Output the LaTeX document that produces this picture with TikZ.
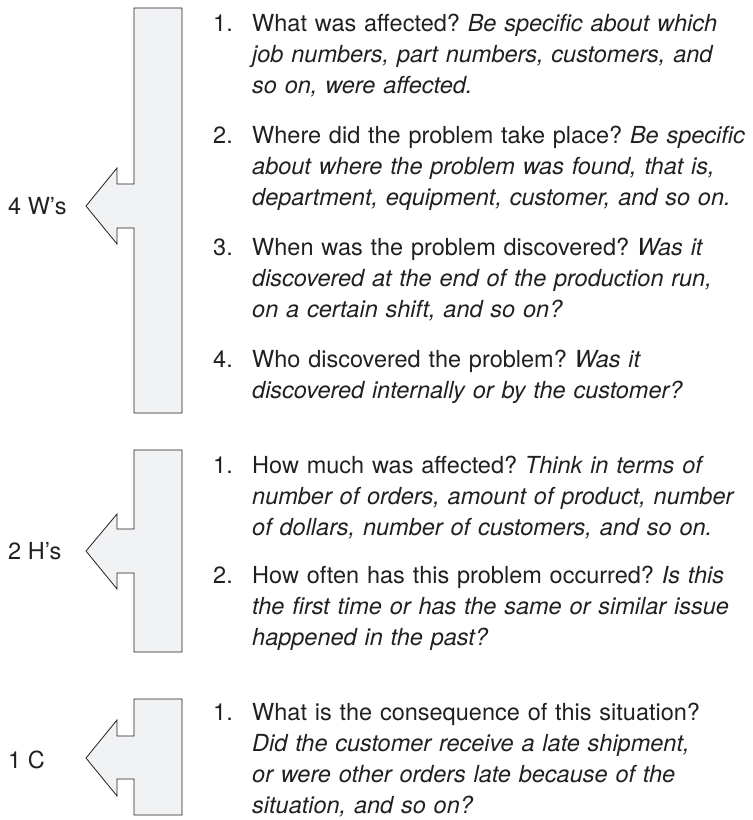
\documentclass[tikz,border=0pt]{standalone}
\usepackage{fontspec}
\setmainfont{TeX Gyre Heros}
\frenchspacing
\definecolor{barfill}{HTML}{F1F2F4}
\definecolor{ink}{HTML}{231F20}
\begin{document}
\begin{tikzpicture}[x=1pt, y=-1pt, every node/.style={font=\fontsize{23.5}{31}\selectfont, text=ink, inner sep=0pt},
  bar/.style={draw=ink, line width=0.8pt, fill=barfill, line join=miter},
  num/.style={anchor=base west},
  item/.style={anchor=base west, text width=520pt, align=left},
  tag/.style={anchor=west}]
  \useasboundingbox (0,0) rectangle (753,820);
  % bars with arrow heads
  \draw[bar] (182,8) -- (134,8) -- (134,184) -- (117,184) -- (117,168) -- (86,206) -- (117,244) -- (117,228) -- (134,228) -- (134,413) -- (182,413) -- cycle;
  \draw[bar] (182,450) -- (134,450) -- (134,529) -- (117,529) -- (117,514) -- (86,551) -- (117,589) -- (117,573) -- (134,573) -- (134,652) -- (182,652) -- cycle;
  \draw[bar] (182,699) -- (134,699) -- (134,736) -- (117,736) -- (117,720) -- (86,758) -- (117,796) -- (117,779) -- (134,779) -- (134,815) -- (182,815) -- cycle;
  \node[tag] (w) at (8,206) {4 W’s};
  \node[tag] (h) at (8,551) {2 H’s};
  \node[tag] (c) at (8,760) {1 C};
  % 4 W's
  \node[num] (w1n) at (213,31) {1.};
  \node[item] (w1) at (252,31) {What was affected? \textit{Be specific about which}\\ \textit{job numbers, part numbers, customers, and}\\ \textit{so on, were affected.}};
  \node[num] (w2n) at (213,143) {2.};
  \node[item] (w2) at (252,143) {Where did the problem take place? \textit{Be specific}\\ \textit{about where the problem was found, that is,}\\ \textit{department, equipment, customer, and so on.}};
  \node[num] (w3n) at (213,255) {3.};
  \node[item] (w3) at (252,255) {When was the problem discovered? \textit{Was it}\\ \textit{discovered at the end of the production run,}\\ \textit{on a certain shift, and so on?}};
  \node[num] (w4n) at (213,367) {4.};
  \node[item] (w4) at (252,367) {Who discovered the problem? \textit{Was it}\\ \textit{discovered internally or by the customer?}};
  % 2 H's
  \node[num] (h1n) at (213,473) {1.};
  \node[item] (h1) at (252,473) {How much was affected? \textit{Think in terms of}\\ \textit{number of orders, amount of product, number}\\ \textit{of dollars, number of customers, and so on.}};
  \node[num] (h2n) at (213,583) {2.};
  \node[item] (h2) at (252,583) {How often has this problem occurred? \textit{Is this}\\ \textit{the first time or has the same or similar issue}\\ \textit{happened in the past?}};
  % 1 C
  \node[num] (c1n) at (213,720) {1.};
  \node[item] (c1) at (252,720) {What is the consequence of this situation?\\ \textit{Did the customer receive a late shipment,}\\ \textit{or were other orders late because of the}\\ \textit{situation, and so on?}};
\end{tikzpicture}
\end{document}
